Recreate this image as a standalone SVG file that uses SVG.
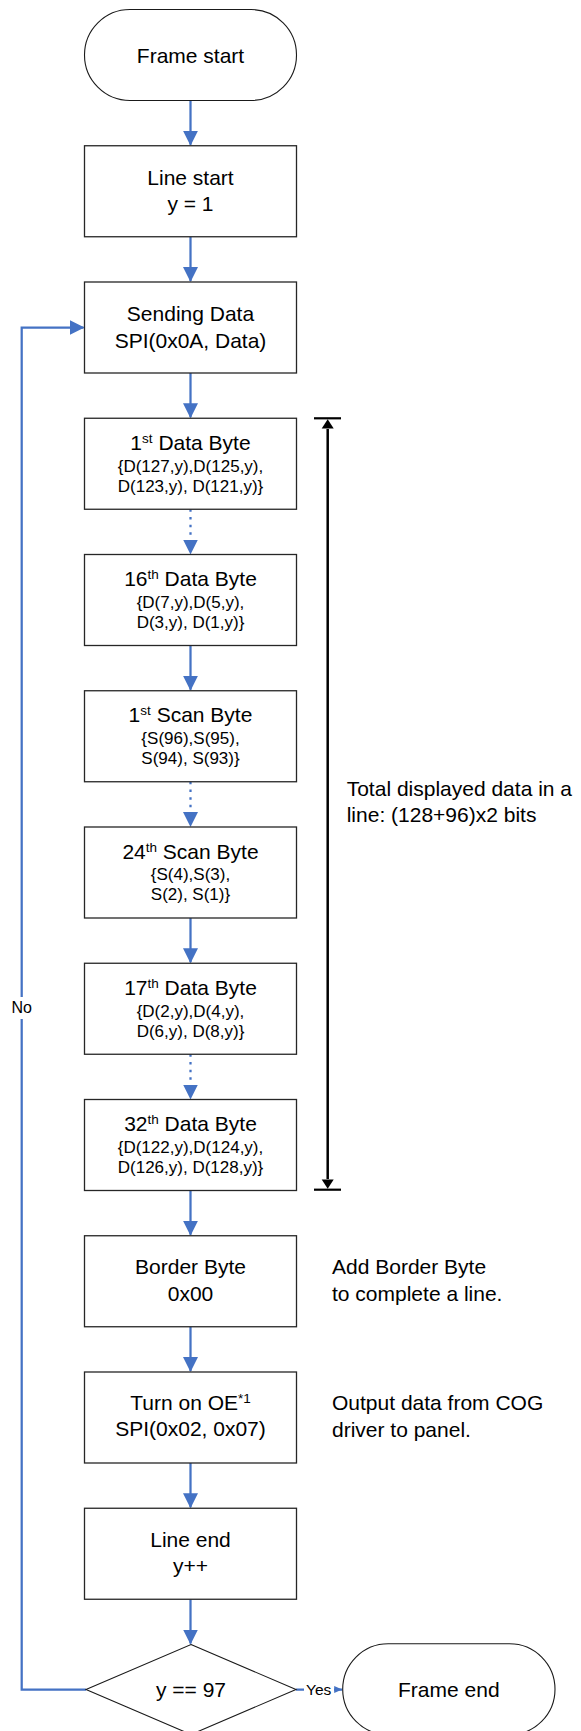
<svg xmlns="http://www.w3.org/2000/svg" width="581" height="1731" viewBox="0 0 581 1731">
<style>
text{font-family:"Liberation Sans",Arial,sans-serif;fill:#000}
.t{font-size:21px;text-anchor:middle}
.s{font-size:17px;text-anchor:middle}
.r{font-size:21px}
.lbl{font-size:16px;text-anchor:middle}
.box{fill:#fff;stroke:#262626;stroke-width:1.3}
.pill{fill:#fff;stroke:#1a1a1a;stroke-width:1.1}
.c{fill:none;stroke:#4472C4;stroke-width:2.25}
.d{fill:none;stroke:#4472C4;stroke-width:2.25;stroke-dasharray:2.5 5.2}
.m{fill:none;stroke:#000;stroke-width:2.5}
</style>
<defs>
<marker id="ah" markerUnits="userSpaceOnUse" markerWidth="16" markerHeight="16" refX="14" refY="7.5" orient="auto"><path d="M0,0 L15,7.5 L0,15 z" fill="#4472C4"/></marker>
<marker id="ahs" markerUnits="userSpaceOnUse" markerWidth="9" markerHeight="8" refX="8" refY="3.5" orient="auto"><path d="M0,0 L8,3.5 L0,7 z" fill="#4472C4"/></marker>
<marker id="bk" markerUnits="userSpaceOnUse" markerWidth="13" markerHeight="10" refX="9" refY="6" orient="auto"><path d="M0,0 L9,6 L0,12 z" fill="#000"/></marker>
</defs>

<g id="connectors">
<path class="c" d="M190.5,100.5 V144.75" marker-end="url(#ah)"/>
<path class="c" d="M190.5,236.75 V281" marker-end="url(#ah)"/>
<path class="c" d="M190.5,373 V417.25" marker-end="url(#ah)"/>
<path class="d" d="M190.5,509.25 V553.5" marker-end="url(#ah)"/>
<path class="c" d="M190.5,645.5 V689.75" marker-end="url(#ah)"/>
<path class="d" d="M190.5,781.75 V826" marker-end="url(#ah)"/>
<path class="c" d="M190.5,918 V962.25" marker-end="url(#ah)"/>
<path class="d" d="M190.5,1054.25 V1098.5" marker-end="url(#ah)"/>
<path class="c" d="M190.5,1190.5 V1234.75" marker-end="url(#ah)"/>
<path class="c" d="M190.5,1326.75 V1371" marker-end="url(#ah)"/>
<path class="c" d="M190.5,1463 V1507.25" marker-end="url(#ah)"/>
<path class="c" d="M190.5,1599.25 V1643.5" marker-end="url(#ah)"/>
<path class="c" d="M86,1689.5 H21.7 V327.5 H83.5" marker-end="url(#ah)"/>
<rect x="10" y="997" width="24" height="22" fill="#fff"/>
<text class="lbl" x="21.7" y="1013.3">No</text>
<path class="c" d="M296,1689.5 H342.2" marker-end="url(#ahs)"/>
<rect x="304" y="1680" width="30" height="18" fill="#fff"/>
<text x="306" y="1694.5" style="font-size:15.5px">Yes</text>
</g>

<g id="measure">
<path class="m" d="M327.7,429 V1179"/>
<path d="M314,418.3 H341" stroke="#000" stroke-width="2.2"/>
<path d="M314,1189.7 H341" stroke="#000" stroke-width="2.2"/>
<path d="M327.7,419.3 L321.7,428.5 L333.7,428.5 z" fill="#000"/>
<path d="M327.7,1188.7 L321.7,1179.5 L333.7,1179.5 z" fill="#000"/>
</g>

<g id="n0"><rect class="pill" x="84.5" y="9.5" width="212" height="91" rx="45.5" ry="45.5"/><text class="t" x="190.5" y="62.5">Frame start</text></g>
<g id="n1"><rect class="box" x="84.5" y="145.75" width="212" height="91"/><text class="t" x="190.5" y="184.8">Line start</text><text class="t" x="190.5" y="210.8">y = 1</text></g>
<g id="n2"><rect class="box" x="84.5" y="282" width="212" height="91"/><text class="t" x="190.5" y="320.5">Sending Data</text><text class="t" x="190.5" y="347.5">SPI(0x0A, Data)</text></g>
<g id="n3"><rect class="box" x="84.5" y="418.25" width="212" height="91"/><text class="t" x="190.5" y="450">1<tspan font-size="13.5" dy="-7">st</tspan><tspan dy="7"> Data Byte</tspan></text><text class="s" x="190.5" y="471.7">{D(127,y),D(125,y),</text><text class="s" x="190.5" y="491.7">D(123,y), D(121,y)}</text></g>
<g id="n4"><rect class="box" x="84.5" y="554.5" width="212" height="91"/><text class="t" x="190.5" y="586.2">16<tspan font-size="13.5" dy="-7">th</tspan><tspan dy="7"> Data Byte</tspan></text><text class="s" x="190.5" y="607.9">{D(7,y),D(5,y),</text><text class="s" x="190.5" y="627.9">D(3,y), D(1,y)}</text></g>
<g id="n5"><rect class="box" x="84.5" y="690.75" width="212" height="91"/><text class="t" x="190.5" y="722.4">1<tspan font-size="13.5" dy="-7">st</tspan><tspan dy="7"> Scan Byte</tspan></text><text class="s" x="190.5" y="744.1">{S(96),S(95),</text><text class="s" x="190.5" y="764.1">S(94), S(93)}</text></g>
<g id="n6"><rect class="box" x="84.5" y="827" width="212" height="91"/><text class="t" x="190.5" y="858.7">24<tspan font-size="13.5" dy="-7">th</tspan><tspan dy="7"> Scan Byte</tspan></text><text class="s" x="190.5" y="880.4">{S(4),S(3),</text><text class="s" x="190.5" y="900.4">S(2), S(1)}</text></g>
<g id="n7"><rect class="box" x="84.5" y="963.25" width="212" height="91"/><text class="t" x="190.5" y="995">17<tspan font-size="13.5" dy="-7">th</tspan><tspan dy="7"> Data Byte</tspan></text><text class="s" x="190.5" y="1016.7">{D(2,y),D(4,y),</text><text class="s" x="190.5" y="1036.7">D(6,y), D(8,y)}</text></g>
<g id="n8"><rect class="box" x="84.5" y="1099.5" width="212" height="91"/><text class="t" x="190.5" y="1131.2">32<tspan font-size="13.5" dy="-7">th</tspan><tspan dy="7"> Data Byte</tspan></text><text class="s" x="190.5" y="1152.9">{D(122,y),D(124,y),</text><text class="s" x="190.5" y="1172.9">D(126,y), D(128,y)}</text></g>
<g id="n9"><rect class="box" x="84.5" y="1235.75" width="212" height="91"/><text class="t" x="190.5" y="1273.5">Border Byte</text><text class="t" x="190.5" y="1300.7">0x00</text></g>
<g id="n10"><rect class="box" x="84.5" y="1372" width="212" height="91"/><text class="t" x="190.5" y="1410">Turn on OE<tspan font-size="13.5" dy="-7">*1</tspan></text><text class="t" x="190.5" y="1436">SPI(0x02, 0x07)</text></g>
<g id="n11"><rect class="box" x="84.5" y="1508.25" width="212" height="91"/><text class="t" x="190.5" y="1546.7">Line end</text><text class="t" x="190.5" y="1572.7">y++</text></g>
<g id="n12"><polygon class="pill" points="191,1644.5 296,1689.5 191,1734.5 86,1689.5"/><text class="t" x="191" y="1697">y == 97</text></g>
<g id="n13"><rect class="pill" x="342.7" y="1643.7" width="212.3" height="91" rx="45.5" ry="45.5"/><text class="t" x="448.8" y="1696.5">Frame end</text></g>

<g id="notes">
<text class="r" x="346.7" y="796">Total displayed data in a</text>
<text class="r" x="346.7" y="822">line: (128+96)x2 bits</text>
<text class="r" x="332" y="1273.5">Add Border Byte</text>
<text class="r" x="332" y="1300.7">to complete a line.</text>
<text class="r" x="332" y="1410">Output data from COG</text>
<text class="r" x="332" y="1436.5">driver to panel.</text>
</g>
</svg>
